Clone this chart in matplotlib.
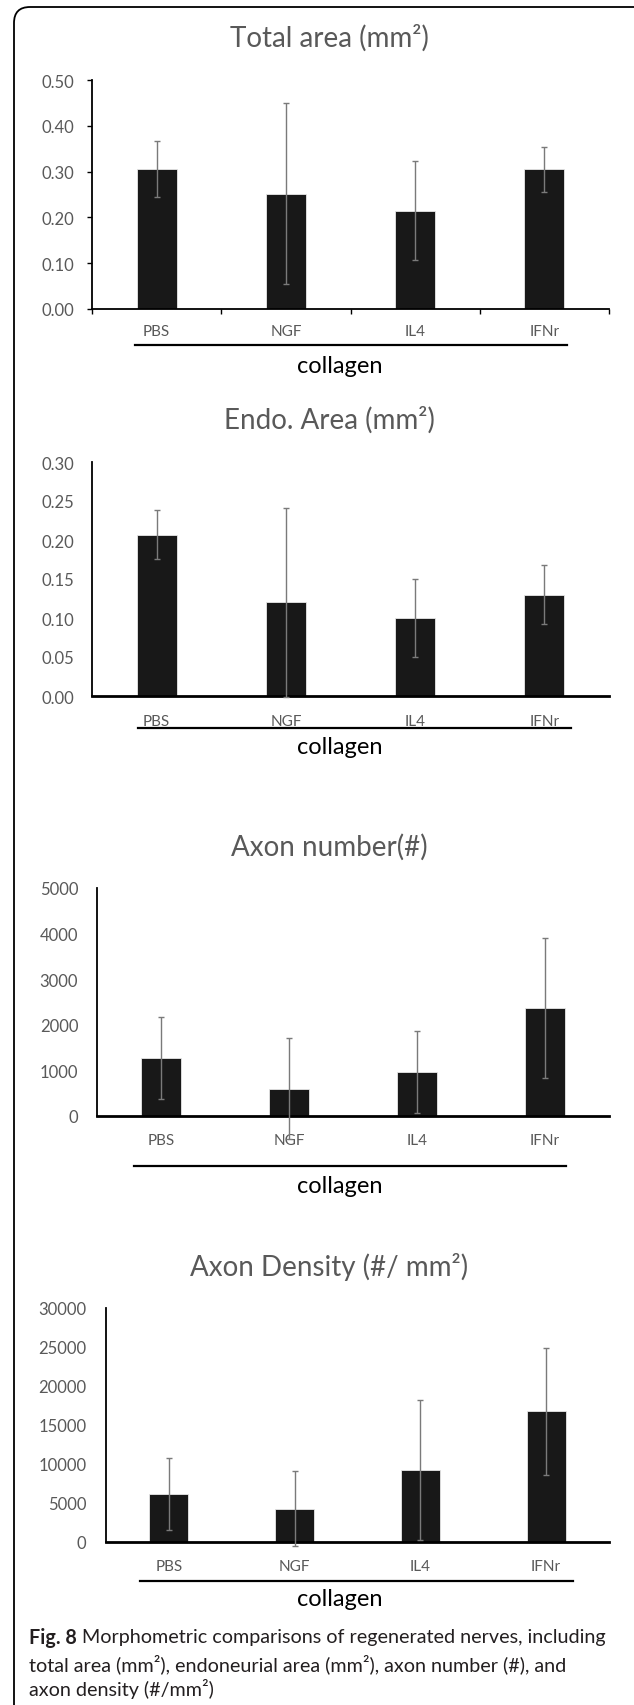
import matplotlib
matplotlib.use('Agg')
import matplotlib.pyplot as plt
import numpy as np
from matplotlib.patches import FancyBboxPatch
from matplotlib.lines import Line2D
from matplotlib.transforms import IdentityTransform

plt.rcParams['font.family'] = ['Lato', 'DejaVu Sans']

# ---------------- data ----------------
categories = ['PBS', 'NGF', 'IL4', 'IFNr']
group_label = 'collagen'

total_area = [0.306, 0.252, 0.215, 0.305]
total_area_err = [0.061, 0.197, 0.108, 0.049]

endo_area = [0.207, 0.120, 0.100, 0.130]
endo_area_err = [0.031, 0.121, 0.050, 0.038]

axon_number = [1275, 600, 960, 2365]
axon_number_err = [895, 1100, 905, 1530]

axon_density = [6200, 4270, 9200, 16770]
axon_density_err = [4630, 4780, 8990, 8150]

titles = ['Total area (mm²)', 'Endo. Area (mm²)', 'Axon number(#)', 'Axon Density (#/ mm²)']
y_max = [0.5, 0.3, 5000, 30000]
y_step = [0.1, 0.05, 1000, 5000]
y_fmt = ['{:.2f}', '{:.2f}', '{:.0f}', '{:.0f}']

caption_bold = 'Fig. 8'
caption_lines = [
    ' Morphometric comparisons of regenerated nerves, including',
    'total area (mm²), endoneurial area (mm²), axon number (#), and',
    'axon density (#/mm²)',
]

# ---------------- layout (pixels) ----------------
W, H = 634, 1706
fig = plt.figure(figsize=(W / 100, H / 100), dpi=100)
fig.patch.set_facecolor('white')
renderer = fig.canvas.get_renderer()

def fx(x):
    return x / W

def fy(y):
    return 1 - y / H

GRAY = '#595959'
BAR = '#181818'

layout = [
    dict(box=(92, 81, 609, 310), title_y=38, xpad=11.0, ypad=9.5, ticks=True, xlw=1.3,
         bracket=(135, 567, 346), coll_y=367),
    dict(box=(92, 463, 609, 697), title_y=420, xpad=13.0, ypad=13.0, ticks=False, xlw=2.0,
         bracket=(138, 571, 729), coll_y=748),
    dict(box=(97, 889, 609, 1117), title_y=847, xpad=12.6, ypad=13.5, ticks=False, xlw=2.0,
         bracket=(134, 566, 1167), coll_y=1187),
    dict(box=(106, 1309, 609, 1543), title_y=1267, xpad=12.6, ypad=14.0, ticks=False, xlw=2.0,
         bracket=(140, 573, 1582), coll_y=1600),
]

values = [total_area, endo_area, axon_number, axon_density]
errors = [total_area_err, endo_area_err, axon_number_err, axon_density_err]

x = np.arange(len(categories))

for i, L in enumerate(layout):
    x0, yt, x1, yb = L['box']
    ax = fig.add_axes([fx(x0), fy(yb), fx(x1) - fx(x0), fy(yt) - fy(yb)])
    ax.bar(x, values[i], width=0.31, color=BAR, edgecolor='#e8e8e8', linewidth=0.6, zorder=2)
    eb = ax.errorbar(x, values[i], yerr=errors[i], fmt='none', ecolor='#7a7a7a',
                     elinewidth=1.0, capsize=2.4, capthick=1.0, zorder=3)
    for art in eb.get_children():
        art.set_clip_on(False)
    ax.set_xlim(-0.5, len(categories) - 0.5)
    ax.set_ylim(0, y_max[i])
    yt_vals = np.arange(0, y_max[i] + y_step[i] / 2, y_step[i])
    ax.set_yticks(yt_vals)
    ax.set_yticklabels([y_fmt[i].format(v) for v in yt_vals])
    ax.set_xticks(x)
    ax.set_xticklabels(categories)
    ax.spines['top'].set_visible(False)
    ax.spines['right'].set_visible(False)
    ax.spines['left'].set_linewidth(1.3)
    ax.spines['bottom'].set_linewidth(L['xlw'])
    ax.spines['left'].set_color('black')
    ax.spines['bottom'].set_color('black')
    ax.tick_params(axis='x', which='major', length=0, pad=L['xpad'], labelsize=11, labelcolor=GRAY)
    if L['ticks']:
        ax.tick_params(axis='y', length=3.5, width=1.0, pad=L['ypad'], labelsize=12, labelcolor=GRAY)
        ax.set_xticks(np.arange(-0.5, len(categories), 1.0), minor=True)
        ax.tick_params(axis='x', which='minor', length=3.5, width=1.0, direction='out')
    else:
        ax.tick_params(axis='y', length=0, pad=L['ypad'], labelsize=12, labelcolor=GRAY)
    ax.patch.set_alpha(0)

    fig.text(fx(329), fy(L['title_y']), titles[i], ha='center', va='center',
             fontsize=20, color=GRAY)
    bx0, bx1, by = L['bracket']
    fig.add_artist(Line2D([fx(bx0), fx(bx1)], [fy(by), fy(by)], color='black', lw=1.6,
                          transform=fig.transFigure, zorder=5))
    fig.text(fx(340), fy(L['coll_y']), group_label, ha='center', va='center',
             fontsize=17, color='black')

# frame
frame = FancyBboxPatch((14, -40), W + 40, H - 8 + 40,
                       boxstyle='round,pad=0,rounding_size=16',
                       transform=IdentityTransform(), facecolor='none',
                       edgecolor='black', linewidth=1.3, zorder=0)
fig.add_artist(frame)

# caption (size fitted so that line 1 spans x=29..607 px)
cap_x0, cap_x1 = 29, 607
cap_y = [1638, 1664, 1689]
cap_color = '#231f20'
fs = 12.5
tb = fig.text(fx(cap_x0), fy(cap_y[0]), caption_bold, ha='left', va='center', fontsize=fs,
              fontweight='bold', color=cap_color)
tr = fig.text(0, fy(cap_y[0]), caption_lines[0], ha='left', va='center', fontsize=fs,
              color=cap_color)
w_now = tb.get_window_extent(renderer).width + tr.get_window_extent(renderer).width
fs = fs * (cap_x1 - cap_x0) / w_now
tb.set_fontsize(fs)
tr.set_fontsize(fs)
bb = tb.get_window_extent(renderer)
tr.set_x(bb.x1 / W)
for k in (1, 2):
    fig.text(fx(cap_x0), fy(cap_y[k]), caption_lines[k], ha='left', va='center', fontsize=fs,
             color=cap_color)

fig.savefig('out.png', dpi=100)
